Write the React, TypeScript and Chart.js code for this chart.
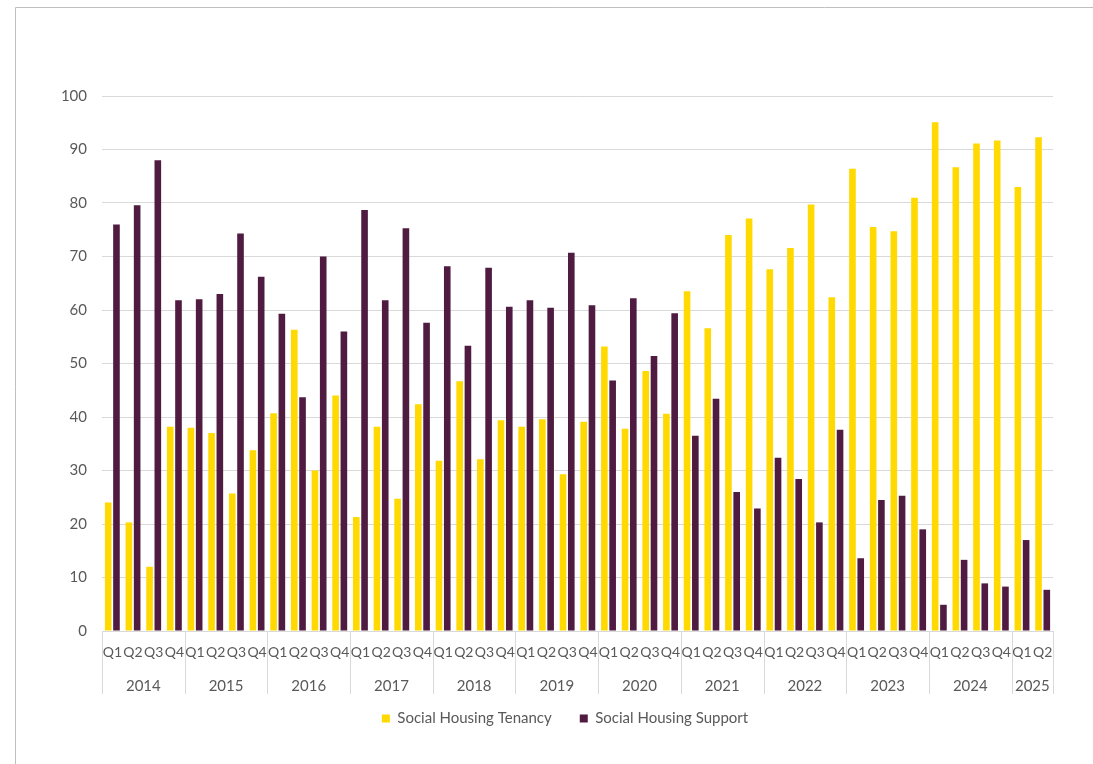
import React, { useEffect, useRef } from "react";
import { Chart, registerables } from "chart.js";

Chart.register(...registerables);

const years = ["2014", "2015", "2016", "2017", "2018", "2019", "2020", "2021", "2022", "2023", "2024", "2025"];
const quartersPerYear = [4, 4, 4, 4, 4, 4, 4, 4, 4, 4, 4, 2];
const quarterNames = ["Q1", "Q2", "Q3", "Q4"];

const tenancy = [
  24, 20.3, 12, 38.2,
  38, 37, 25.7, 33.8,
  40.7, 56.3, 30, 44,
  21.3, 38.2, 24.7, 42.4,
  31.8, 46.7, 32.1, 39.4,
  38.2, 39.6, 29.3, 39.1,
  53.2, 37.8, 48.6, 40.6,
  63.5, 56.6, 74, 77.1,
  67.6, 71.6, 79.7, 62.4,
  86.4, 75.5, 74.7, 81,
  95.1, 86.7, 91.1, 91.7,
  83, 92.3,
];

const support = [
  76, 79.6, 88, 61.8,
  62, 63, 74.3, 66.2,
  59.3, 43.7, 70, 56,
  78.7, 61.8, 75.3, 57.6,
  68.2, 53.3, 67.9, 60.6,
  61.8, 60.4, 70.7, 60.9,
  46.8, 62.2, 51.4, 59.4,
  36.5, 43.4, 26, 22.9,
  32.4, 28.4, 20.3, 37.6,
  13.6, 24.5, 25.3, 19,
  4.9, 13.3, 8.9, 8.3,
  17, 7.7,
];

const yTicks = [0, 10, 20, 30, 40, 50, 60, 70, 80, 90, 100];

const FONT = "Lato";
const FSIZE = 15;
const QSIZE = 14;
const TEXT = "#595959";
const GRID = "#d9d9d9";

const labels: string[] = [];
years.forEach((y, i) => {
  for (let q = 0; q < quartersPerYear[i]; q++) labels.push(quarterNames[q]);
});

const yearAxisPlugin = {
  id: "yearAxis",
  afterLayout(chart: any) {
    if (chart.legend) chart.legend.left += 77;
  },
  beforeDraw(chart: any) {
    const ctx = chart.ctx;
    ctx.save();
    ctx.strokeStyle = "#bfbfbf";
    ctx.lineWidth = 1;
    ctx.beginPath();
    ctx.moveTo(15.5, 2000);
    ctx.lineTo(15.5, 7.5);
    ctx.lineTo(2000, 7.5);
    ctx.stroke();
    ctx.restore();
  },
  afterDraw(chart: any) {
    const x = chart.scales.x;
    const ctx = chart.ctx;
    const top = chart.chartArea.bottom;
    const lineBottom = top + 63;
    const labelY = top + 55;
    const boundary = (i: number) => {
      if (i <= 0) return x.left;
      if (i >= labels.length) return x.right;
      return (x.getPixelForValue(i - 1) + x.getPixelForValue(i)) / 2;
    };
    ctx.save();
    ctx.strokeStyle = GRID;
    ctx.lineWidth = 1;
    ctx.fillStyle = TEXT;
    ctx.font = `${FSIZE}px ${FONT}`;
    ctx.textAlign = "center";
    ctx.textBaseline = "middle";
    let idx = 0;
    years.forEach((yr, i) => {
      const l = boundary(idx);
      const r = boundary(idx + quartersPerYear[i]);
      ctx.beginPath();
      ctx.moveTo(Math.round(l) + 0.5, top);
      ctx.lineTo(Math.round(l) + 0.5, lineBottom);
      ctx.stroke();
      if (i === years.length - 1) {
        ctx.beginPath();
        ctx.moveTo(Math.round(r) + 0.5, top);
        ctx.lineTo(Math.round(r) + 0.5, lineBottom);
        ctx.stroke();
      }
      ctx.fillText(yr, (l + r) / 2, labelY);
      idx += quartersPerYear[i];
    });
    ctx.restore();
  },
};

export default function App() {
  const ref = useRef<HTMLCanvasElement | null>(null);
  useEffect(() => {
    document.body.style.margin = "0";
    const chart = new Chart(ref.current!, {
      type: "bar",
      data: {
        labels,
        datasets: [
          {
            label: "Social Housing Tenancy",
            data: tenancy,
            backgroundColor: "#FFD900",
            borderWidth: 0,
            categoryPercentage: 0.8,
            barPercentage: 0.8,
          },
          {
            label: "Social Housing Support",
            data: support,
            backgroundColor: "#4F1B40",
            borderWidth: 0,
            categoryPercentage: 0.8,
            barPercentage: 0.8,
          },
        ],
      },
      options: {
        animation: false,
        responsive: false,
        maintainAspectRatio: false,
        layout: { padding: { top: 96, right: 40, left: 0, bottom: 28 } },
        plugins: {
          legend: {
            position: "bottom",
            labels: {
              font: { family: FONT, size: FSIZE },
              color: TEXT,
              boxWidth: 8,
              boxHeight: 8,
              padding: 28,
            },
          },
          tooltip: { enabled: false },
        },
        scales: {
          x: {
            grid: { display: false, drawTicks: false },
            border: { display: true, color: GRID },
            ticks: {
              font: { family: FONT, size: QSIZE },
              color: TEXT,
              autoSkip: false,
              maxRotation: 0,
              minRotation: 0,
              padding: 13,
            },
            afterFit(scale: any) {
              scale.height = 52;
            },
          },
          y: {
            min: 0,
            max: 100,
            afterBuildTicks(scale: any) {
              scale.ticks = yTicks.map((v) => ({ value: v }));
            },
            grid: { color: GRID, drawTicks: false },
            border: { display: false },
            ticks: {
              font: { family: FONT, size: FSIZE },
              color: TEXT,
              padding: 15,
            },
            afterFit(scale: any) {
              scale.width = 102;
            },
          },
        },
      },
      plugins: [yearAxisPlugin],
    });
    return () => chart.destroy();
  }, []);
  return (
    <div style={{ width: 1093, height: 764, background: "#fff" }}>
      <canvas ref={ref} width={1093} height={764} style={{ display: "block" }} />
    </div>
  );
}
